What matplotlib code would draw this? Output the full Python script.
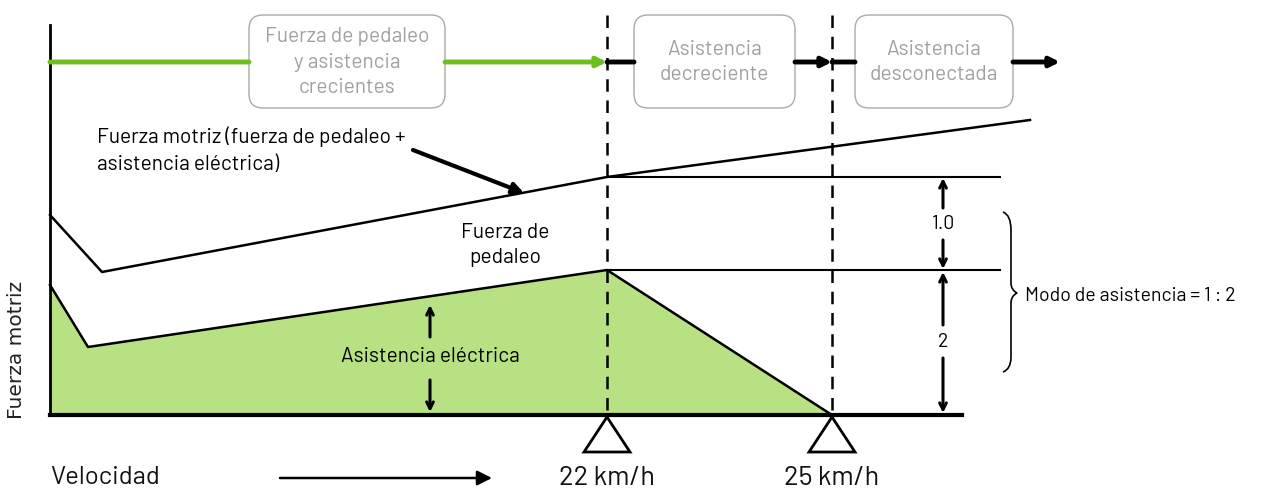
import matplotlib.pyplot as plt
from matplotlib.patches import FancyBboxPatch, Polygon, PathPatch
from matplotlib.path import Path

# Diagrama: fuerza motriz frente a velocidad (coordenadas en píxeles de la imagen)
vel_limites = [607, 832]              # 22 km/h y 25 km/h
etiquetas_vel = ['22 km/h', '25 km/h']

# Curva de fuerza motriz (pedaleo + asistencia)
motriz_x = [50, 102, 607, 1030]
motriz_y = [215, 272, 177, 120]

# Curva de fuerza de pedaleo (límite superior del área verde)
asist_x = [50, 88, 607, 832]
asist_y = [285, 347, 270, 415]

base_y = 415
niveles_y = [177, 270]   # líneas horizontales de referencia

# Cajas de fases
fases = ['Fuerza de pedaleo\ny asistencia\ncrecientes',
         'Asistencia\ndecreciente',
         'Asistencia\ndesconectada']
fases_x0 = [249, 634, 855]
fases_x1 = [445, 795, 1013]

fuente = ['Barlow', 'DejaVu Sans']
gris = '#a0a0a0'
verde = '#6dbf1f'
verde_claro = '#b8e183'

fig = plt.figure(figsize=(12.66, 4.93), dpi=100)
ax = fig.add_axes([0, 0, 1, 1])
ax.set_xlim(0, 1266)
ax.set_ylim(493, 0)
ax.axis('off')

# Área de asistencia eléctrica
ax.fill(asist_x + [asist_x[0]], asist_y + [base_y], color=verde_claro, lw=0)
ax.plot(asist_x, asist_y, color='black', lw=1.8)
ax.plot(motriz_x, motriz_y, color='black', lw=1.8)

# Ejes
ax.plot([50, 50], [25, base_y], color='black', lw=2)
ax.plot([50, 962], [base_y, base_y], color='black', lw=3)

# Líneas de referencia horizontales
for y in niveles_y:
    ax.plot([607, 1000], [y, y], color='black', lw=1.5)

# Líneas discontinuas verticales
for x in vel_limites:
    ax.plot([x, x], [15, base_y], color='black', lw=1.8, ls=(0, (5, 3.5)))

# Triángulos y etiquetas de velocidad
for x, lab in zip(vel_limites, etiquetas_vel):
    ax.add_patch(Polygon([[x, base_y + 2], [x - 23, 452], [x + 23, 452]],
                         closed=True, fc='white', ec='black', lw=2))
    ax.text(x, 478, lab, ha='center', va='center', fontsize=19.5, family=fuente,
            color='#111111')

ax.text(50, 477, 'Velocidad', ha='left', va='center', fontsize=18.5, family=fuente,
        color='#111111')
ax.annotate('', xy=(492, 478), xytext=(280, 478),
            arrowprops=dict(arrowstyle='-|>', color='black', lw=1.8,
                            mutation_scale=22, shrinkA=0, shrinkB=0))
ax.text(17, 350, 'Fuerza motriz', rotation=90, ha='center', va='center',
        fontsize=14.5, family='DejaVu Sans', color='#222222')

# Flechas de fases (fila superior)
def flecha(x0, x1, color, cabeza=True):
    estilo = '-|>' if cabeza else '-'
    ax.annotate('', xy=(x1, 62), xytext=(x0, 62),
                arrowprops=dict(arrowstyle=estilo, color=color, lw=3.5,
                                mutation_scale=14, shrinkA=0, shrinkB=0))

flecha(50, 249, verde, cabeza=False)
flecha(445, 607, verde)
flecha(607, 634, 'black', cabeza=False)
flecha(795, 832, 'black')
flecha(832, 855, 'black', cabeza=False)
flecha(1013, 1060, 'black')

for txt, x0, x1 in zip(fases, fases_x0, fases_x1):
    ax.add_patch(FancyBboxPatch((x0, 15), x1 - x0, 93,
                                boxstyle='round,pad=0,rounding_size=14',
                                fc='white', ec='#aaaaaa', lw=1))
    ax.text((x0 + x1) / 2, 62, txt, ha='center', va='center', fontsize=15,
            color=gris, family=fuente, linespacing=1.45)

# Etiquetas internas
ax.text(97, 150, 'Fuerza motriz (fuerza de pedaleo +\nasistencia eléctrica)',
        ha='left', va='center', fontsize=15, family=fuente, linespacing=1.5)
ax.annotate('', xy=(524, 193), xytext=(413, 150),
            arrowprops=dict(arrowstyle='-|>', color='black', lw=3,
                            mutation_scale=16, shrinkA=0, shrinkB=0))
ax.text(505, 245, 'Fuerza de\npedaleo', ha='center', va='center', fontsize=15,
        family=fuente, linespacing=1.45)
ax.text(430, 357, 'Asistencia eléctrica', ha='center', va='center', fontsize=15,
        family=fuente)

def flecha_v(x, y0, y1, lw=2.2):
    ax.annotate('', xy=(x, y1), xytext=(x, y0),
                arrowprops=dict(arrowstyle='->', color='black', lw=lw,
                                mutation_scale=12, shrinkA=0, shrinkB=0))

flecha_v(430, 337, 305)
flecha_v(430, 380, 412)

# Cotas a la derecha
flecha_v(943, 208, 178)
flecha_v(943, 240, 269)
ax.text(943, 224, '1.0', ha='center', va='center', fontsize=14, family=fuente)
flecha_v(943, 325, 272)
flecha_v(943, 358, 413)
ax.text(943, 342, '2', ha='center', va='center', fontsize=14, family=fuente)

# Llave
verts = [(1003, 212), (1011, 215), (1011, 230),
         (1011, 283), (1011, 290), (1017, 293),
         (1011, 296), (1011, 303),
         (1011, 357), (1011, 369), (1003, 372)]
codes = [Path.MOVETO, Path.CURVE3, Path.CURVE3,
         Path.LINETO, Path.CURVE3, Path.CURVE3,
         Path.CURVE3, Path.CURVE3,
         Path.LINETO, Path.CURVE3, Path.CURVE3]
ax.add_patch(PathPatch(Path(verts, codes), fc='none', ec='black', lw=1.2))
ax.text(1025, 296, 'Modo de asistencia = 1 : 2', ha='left', va='center',
        fontsize=14, family=fuente)

fig.savefig('out.png', dpi=100)
